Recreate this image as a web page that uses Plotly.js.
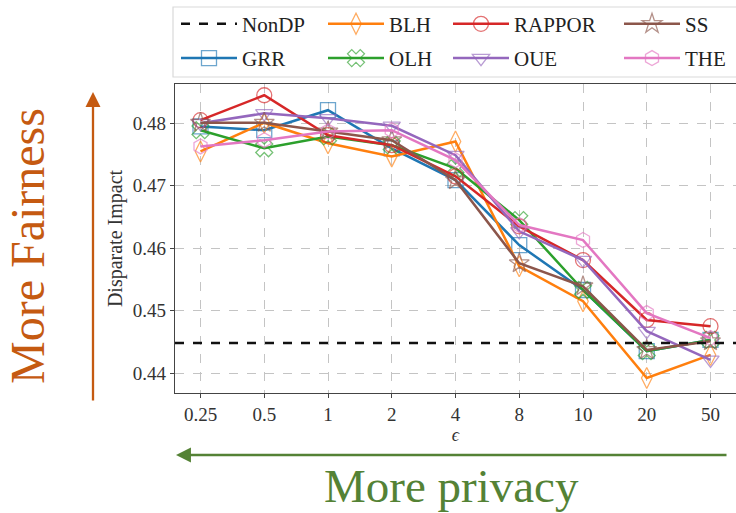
<!DOCTYPE html>
<html><head><meta charset="utf-8">
<script src="https://cdn.plot.ly/plotly-3.0.1.min.js"></script>
<style>html,body{margin:0;padding:0;background:#fff;}#chart{width:736px;height:513px;}</style>
</head><body><div id="chart"></div>
<script>
// ---- data ----
const epsilons = ['0.25','0.5','1','2','4','8','10','20','50'];
const GRR    = [0.4795,0.4789,0.4821,0.4760,0.4709,0.4605,0.4533,0.4435,0.4453];
const BLH    = [0.4755,0.4801,0.4768,0.4747,0.4771,0.4571,0.4515,0.4392,0.4429];
const OLH    = [0.4789,0.4760,0.4779,0.4765,0.4728,0.4645,0.4533,0.4435,0.4453];
const RAPPOR = [0.4805,0.4845,0.4781,0.4765,0.4715,0.4635,0.4581,0.4485,0.4475];
const OUE    = [0.4800,0.4816,0.4808,0.4796,0.4749,0.4627,0.4581,0.4467,0.4421];
const SS     = [0.4801,0.4801,0.4787,0.4773,0.4709,0.4576,0.4539,0.4437,0.4451];
const THE    = [0.4763,0.4773,0.4787,0.4789,0.4741,0.4637,0.4613,0.4496,0.4456];
const NONDP  = 0.4448;
const yTicks = [0.44,0.45,0.46,0.47,0.48];

const series = [
  {name:'GRR', y:GRR, color:'#1f77b4', sym:'square-open', leg:'legend'},
  {name:'BLH', y:BLH, color:'#ff7f0e', sym:'diamond-tall-open', leg:'legend2'},
  {name:'OLH', y:OLH, color:'#2ca02c', sym:'x-open', leg:'legend2'},
  {name:'RAPPOR', y:RAPPOR, color:'#d62728', sym:'circle-open', leg:'legend3'},
  {name:'OUE', y:OUE, color:'#9467bd', sym:'triangle-down-open', leg:'legend3'},
  {name:'SS', y:SS, color:'#8c564b', sym:'star-open', leg:'legend4'},
  {name:'THE', y:THE, color:'#e377c2', sym:'hexagon-open', leg:'legend4'}
];
function rgba(hex,a){const n=parseInt(hex.slice(1),16);return `rgba(${n>>16},${(n>>8)&255},${n&255},${a})`;}
const traces = series.map((s,i)=>({
  type:'scatter', mode:'lines+markers', x:epsilons, y:s.y, name:s.name,
  legend:s.leg, legendgroup:s.name, legendrank:i+2,
  line:{color:s.color, width:2.5},
  marker:{symbol:s.sym, size:15, color:rgba(s.color,0.65), line:{width:1.3}}
}));

const serif = 'Liberation Serif, DejaVu Serif, serif';
const legBase = {bgcolor:'rgba(0,0,0,0)', borderwidth:0, font:{family:serif,size:21,color:'#222'},
  itemwidth:56, tracegroupgap:4, xref:'paper', yref:'paper', xanchor:'left', yanchor:'top', y:1.26};
const px = v => (v-175)/561;
const py = v => (393-v)/309;

const layout = {
  width:736, height:513,
  margin:{l:175, r:0, t:84, b:120},
  paper_bgcolor:'#fff', plot_bgcolor:'#fff',
  font:{family:serif, color:'#333'},
  xaxis:{type:'category', range:[-0.4,8.4], showline:true, linecolor:'#444', linewidth:1.3, mirror:true,
    ticks:'outside', ticklen:4, tickcolor:'#444', showgrid:true, gridcolor:'#c4c4c4', griddash:'dash', gridwidth:1,
    tickfont:{family:serif,size:19,color:'#333'}, zeroline:false,
    title:{text:'<i>ϵ</i>', font:{family:serif,size:18,color:'#333'}, standoff:4}},
  yaxis:{range:[0.4368,0.4863], tickvals:yTicks, ticktext:yTicks.map(v=>v.toFixed(2)), showline:true, linecolor:'#444', linewidth:1.3,
    ticks:'outside', ticklen:4, tickcolor:'#444', showgrid:true, gridcolor:'#c4c4c4', griddash:'dash', gridwidth:1,
    tickfont:{family:serif,size:19,color:'#333'}, zeroline:false,
    title:{text:'Disparate Impact', font:{family:serif,size:20,color:'#333'}, standoff:4}},
  showlegend:true,
  legend:Object.assign({}, legBase, {x:px(176)}),
  legend2:Object.assign({}, legBase, {x:px(323)}),
  legend3:Object.assign({}, legBase, {x:px(448)}),
  legend4:Object.assign({}, legBase, {x:px(619)}),
  shapes:[
    {type:'line', xref:'paper', x0:0, x1:1, yref:'y', y0:NONDP, y1:NONDP,
     line:{color:'#111', width:2.5, dash:'dash'}, showlegend:true, name:'NonDP', legend:'legend', legendrank:1},
    {type:'rect', xref:'paper', yref:'paper', x0:px(173), x1:px(742), y0:py(7), y1:py(77),
     line:{color:'#d9d9d9', width:1.2}, fillcolor:'rgba(255,255,255,0.8)', layer:'below'}
  ],
  annotations:[
    {xref:'paper', yref:'paper', x:px(93), y:py(92), ax:0, ay:310, text:'', showarrow:true,
     arrowhead:2, arrowsize:1.3, arrowwidth:2.3, arrowcolor:'#c55a11'},
    {xref:'paper', yref:'paper', x:px(176), y:py(455), ax:552, ay:0, text:'', showarrow:true,
     arrowhead:2, arrowsize:1.3, arrowwidth:2.3, arrowcolor:'#548235'},
    {xref:'paper', yref:'paper', x:px(27), y:py(246), text:'More Fairness', showarrow:false, textangle:-90,
     font:{family:serif, size:48, color:'#c55a11'}, xanchor:'center', yanchor:'middle'},
    {xref:'paper', yref:'paper', x:px(451), y:py(486), text:'More privacy', showarrow:false,
     font:{family:serif, size:47, color:'#548235'}, xanchor:'center', yanchor:'middle'}
  ]
};
Plotly.newPlot('chart', traces, layout, {displayModeBar:false, staticPlot:true});
</script></body></html>
